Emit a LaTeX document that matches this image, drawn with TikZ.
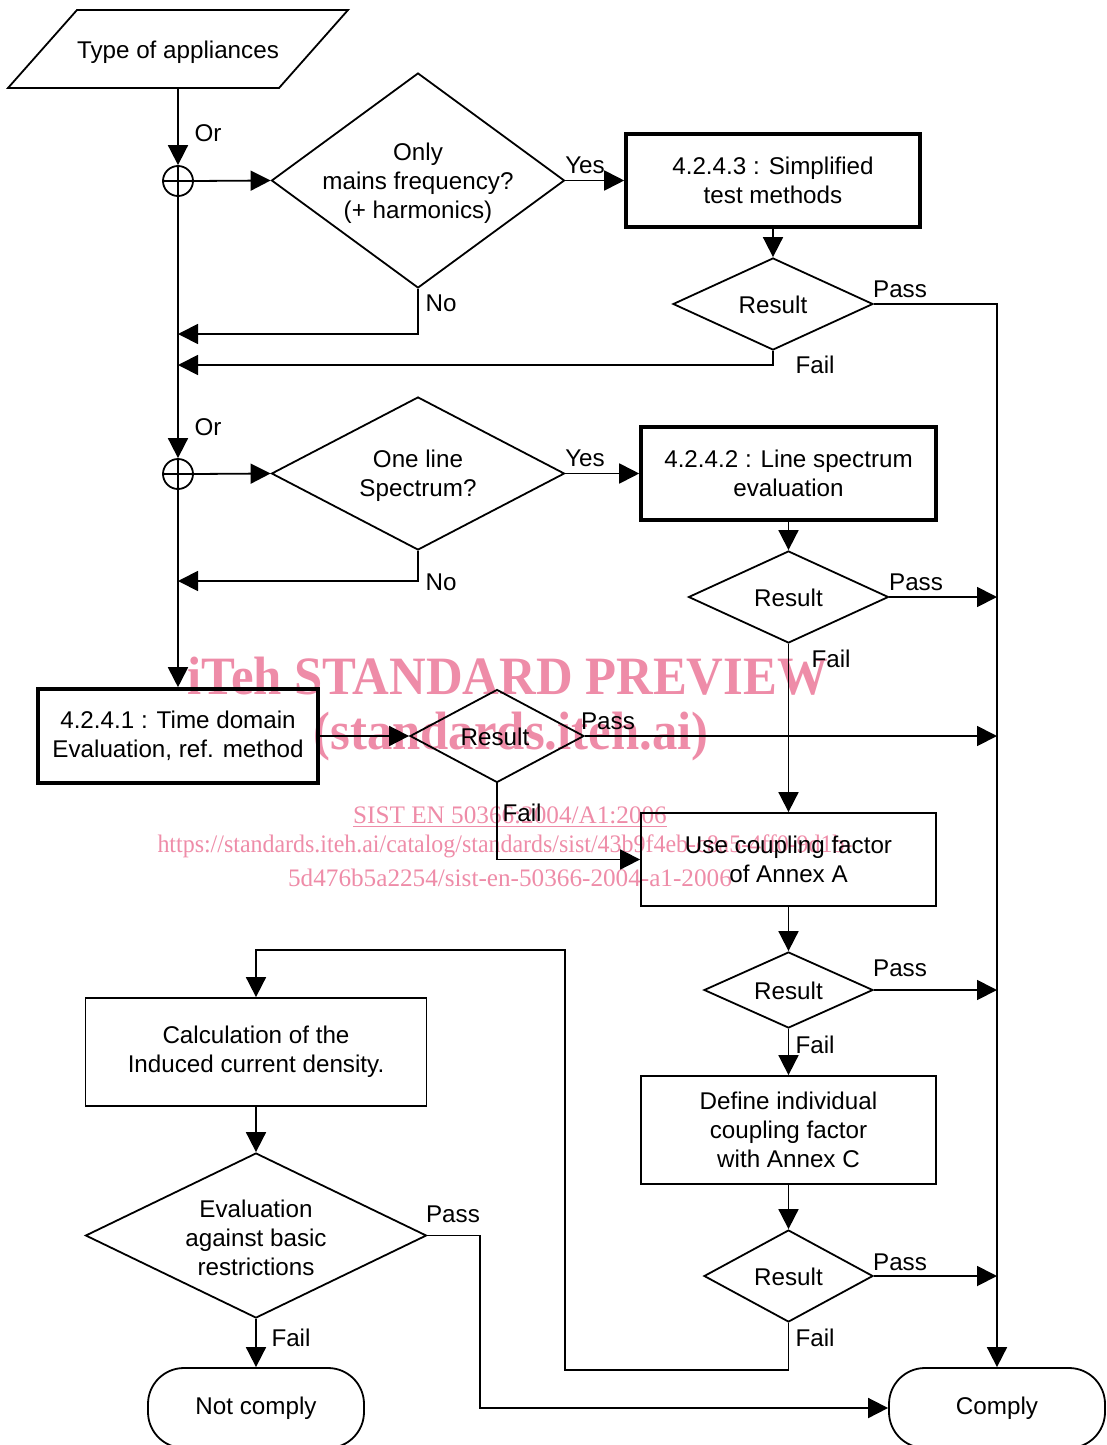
\documentclass[tikz,border=0pt]{standalone}
\usepackage{fontspec}
\setmainfont{Liberation Sans}
\newfontfamily\wmfont{Liberation Serif}
\usetikzlibrary{shapes.geometric,arrows.meta}
\definecolor{wmpink}{RGB}{238,140,168}
\begin{document}
\begin{tikzpicture}[x=0.5pt,y=-0.5pt,
 every node/.style={font=\fontsize{12.1pt}{14.5pt}\selectfont, inner sep=0pt},
 ln/.style={line width=0.9pt},
 arr/.style={line width=0.9pt,-{Triangle[length=10pt,width=10pt]}},
 box/.style={draw,line width=0.9pt,rectangle,align=center},
 tbox/.style={draw,line width=1.8pt,rectangle,align=center},
 dia/.style={draw,diamond,line width=0.9pt},
 txt/.style={align=center},
 term/.style={draw,line width=0.9pt,rectangle,rounded corners=18pt,minimum width=108pt,minimum height=40pt},
 junc/.style={draw,circle,line width=0.9pt,minimum size=15pt},
 wm/.style={text=wmpink,font=\wmfont\fontsize{12.6pt}{12.6pt}\selectfont},
 wmbig/.style={text=wmpink,font=\wmfont\bfseries\fontsize{27pt}{27pt}\selectfont}
]
\clip (0,0) rectangle (1107,1445);

% watermark
\node[wmbig] (wm1) at (508,676) {\scalebox{0.94}[1]{iTeh STANDARD PREVIEW}};
\node[wmbig] (wm2) at (511,737) {\scalebox{0.94}[1]{(standards.iteh.ai)}};
\node[wm,anchor=base] (wm3) at (510,823) {\underline{SIST EN 50366:2004/A1:2006}};
\node[wm,anchor=base] (wm4) at (505,852) {\scalebox{0.95}[1]{https://standards.iteh.ai/catalog/standards/sist/43b9f4eb-c8a5-4ff0-9d1b-}};
\node[wm,anchor=base] (wm5) at (510,886) {5d476b5a2254/sist-en-50366-2004-a1-2006};

% start
\node[txt] (type) at (178,52) {Type of appliances};
\draw[ln] (77,10) -- (348,10) -- (279,88) -- (8,88) -- cycle;
\coordinate (typeb) at (178,88);

% junctions
\node[junc] (j1) at (178,181) {};
\draw[ln] (j1.west) -- (j1.east) (j1.north) -- (j1.south);
\node[junc] (j2) at (178,474) {};
\draw[ln] (j2.west) -- (j2.east) (j2.north) -- (j2.south);

% diamonds of questions
\node[dia,minimum width=146.5pt,minimum height=107.5pt] (d1) at (418,180.5) {};
\node[txt] (d1t) at (418,183) {Only\\mains frequency?\\(+ harmonics)};
\node[dia,minimum width=146.5pt,minimum height=76.5pt] (d2) at (418,473.5) {};
\node[txt] (d2t) at (418,476) {One line\\Spectrum?};

% boxes
\node[tbox,minimum width=147pt,minimum height=46.5pt] (b3) at (773,180.5) {4.2.4.3 : Simplified\\test methods};
\node[tbox,minimum width=147.5pt,minimum height=46.5pt] (b2) at (788.5,473.5) {4.2.4.2 : Line spectrum\\evaluation};
\node[tbox,minimum width=140pt,minimum height=47pt] (b1) at (178,736) {4.2.4.1 : Time domain\\Evaluation, ref. method};
\node[box,minimum width=147.5pt,minimum height=46.5pt] (ua) at (788.5,859.5) {Use coupling factor\\of Annex A};
\node[box,minimum width=147.5pt,minimum height=54pt] (dc) at (788.5,1130) {Define individual\\coupling factor\\with Annex C};
\node[box,minimum width=170.5pt,minimum height=54pt] (cd) at (256,1052) {Calculation of the\\Induced current density.};

% result diamonds
\node[dia,minimum width=100pt,minimum height=46pt] (r1) at (773,304) {};
\node (r1t) at (773,305) {Result};
\node[dia,minimum width=100pt,minimum height=46pt] (r2) at (788.5,597) {};
\node (r2t) at (788.5,598) {Result};
\node[dia,minimum width=87pt,minimum height=46.5pt] (r3) at (497,736) {};
\node (r3t) at (495,737) {Result};
\node[dia,minimum width=84.5pt,minimum height=38pt] (r4) at (788.5,990) {};
\node (r4t) at (788.5,991) {Result};
\node[dia,minimum width=84.5pt,minimum height=46pt] (r5) at (788.5,1276) {};
\node (r5t) at (788.5,1277) {Result};
\node[dia,minimum width=170.5pt,minimum height=82.5pt] (ev) at (256,1235.5) {};
\node[txt] (evt) at (256,1238) {Evaluation\\against basic\\restrictions};

% terminals
\node[term] (nc) at (256,1408) {Not comply};
\node[term] (comply) at (997,1408) {Comply};

% helper coordinates
\coordinate (m1) at (178,334);
\coordinate (m2) at (178,365);
\coordinate (m3) at (178,581);
\coordinate (p2) at (997,597);
\coordinate (p3) at (997,736);
\coordinate (p4) at (997,990);
\coordinate (p5) at (997,1276);
\coordinate (f1) at (565,1370);
\coordinate (f2) at (565,950);
\coordinate (e1) at (480,1235.5);

% connectors
\draw[arr] (typeb) -- (j1.north);
\draw[arr] (j1.east) -- (d1.west);
\draw[arr] (j1.south) -- (j2.north);
\draw[arr] (j2.east) -- (d2.west);
\draw[arr] (j2.south) -- (b1.north);
\draw[arr] (d1.east) -- (b3.west);
\draw[arr] (d1.south) |- (m1);
\draw[arr] (b3.south) -- (r1.north);
\draw[arr] (r1.east) -| (comply.north);
\draw[arr] (r1.south) |- (m2);
\draw[arr] (d2.east) -- (b2.west);
\draw[arr] (d2.south) |- (m3);
\draw[arr] (b2.south) -- (r2.north);
\draw[arr] (r2.east) -- (p2);
\draw[arr] (r2.south) -- (ua.north);
\draw[arr] (b1.east) -- (r3.west);
\draw[arr] (r3.east) -- (p3);
\draw[arr] (r3.south) |- (ua.west);
\draw[arr] (ua.south) -- (r4.north);
\draw[arr] (r4.east) -- (p4);
\draw[arr] (r4.south) -- (dc.north);
\draw[arr] (dc.south) -- (r5.north);
\draw[arr] (r5.east) -- (p5);
\draw[arr] (r5.south) |- (f1) -- (f2) -| (cd.north);
\draw[arr] (cd.south) -- (ev.north);
\draw[arr] (ev.east) -- (e1) |- (comply.west);
\draw[arr] (ev.south) -- (nc.north);

% labels
\node (l1) at (208,133) {Or};
\node (l2) at (208,427) {Or};
\node (l3) at (585,165) {Yes};
\node (l4) at (585,458) {Yes};
\node (l5) at (441,303) {No};
\node (l6) at (441,582) {No};
\node (l7) at (900,289) {Pass};
\node (l8) at (815,365) {Fail};
\node (l9) at (916,582) {Pass};
\node (l10) at (831,659) {Fail};
\node (l11) at (608,721) {Pass};
\node (l12) at (522,813) {Fail};
\node (l13) at (900,968) {Pass};
\node (l14) at (815,1045) {Fail};
\node (l15) at (900,1262) {Pass};
\node (l16) at (815,1338) {Fail};
\node (l17) at (453,1214) {Pass};
\node (l18) at (291,1338) {Fail};
\end{tikzpicture}
\end{document}
